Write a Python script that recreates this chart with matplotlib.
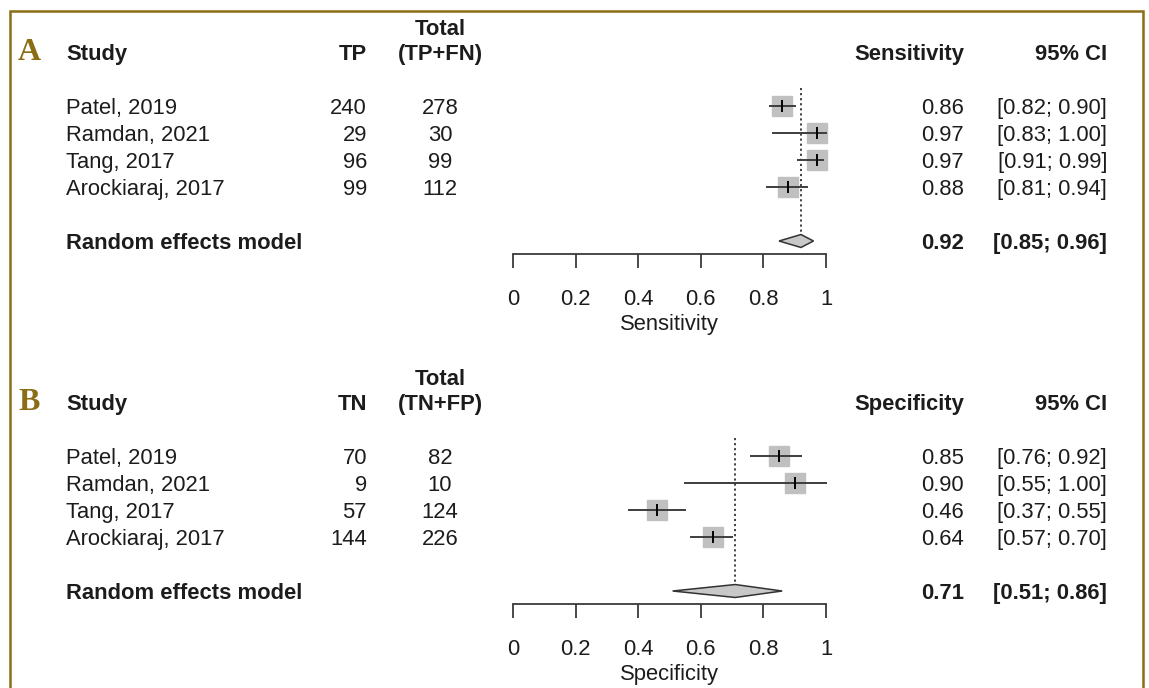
import matplotlib
matplotlib.use("Agg")
import matplotlib.pyplot as plt
import matplotlib.transforms as mtransforms
from matplotlib.patches import Rectangle

# ---- data ----
studies = ["Patel, 2019", "Ramdan, 2021", "Tang, 2017", "Arockiaraj, 2017"]

tp = [240, 29, 96, 99]
total_pos = [278, 30, 99, 112]
sens = [0.86, 0.97, 0.97, 0.88]
sens_lo = [0.82, 0.83, 0.91, 0.81]
sens_hi = [0.90, 1.00, 0.99, 0.94]
sens_pool = [0.92, 0.85, 0.96]  # est, lo, hi

tn = [70, 9, 57, 144]
total_neg = [82, 10, 124, 226]
spec = [0.85, 0.90, 0.46, 0.64]
spec_lo = [0.76, 0.55, 0.37, 0.57]
spec_hi = [0.92, 1.00, 0.55, 0.70]
spec_pool = [0.71, 0.51, 0.86]

ticks = [0, 0.2, 0.4, 0.6, 0.8, 1]
tick_labels = ["0", "0.2", "0.4", "0.6", "0.8", "1"]

W, H = 1149, 688
FS = 15.8
TXT = "#1c1c1c"
GOLD = "#8b6d16"
BL = 0.3  # baseline offset (row units) so text sits centred on the row

plt.rcParams["font.family"] = ["Liberation Sans", "DejaVu Sans"]

fig = plt.figure(figsize=(W / 100, H / 100), dpi=100)


def fx(px):
    return px / W


def forest(letter, y0, count_lbl, total_lbl, metric, counts, totals,
           est, lo, hi, pool):
    # y0 = pixel row of the header line; one row = 27 px
    row = 27.0
    top_u, bot_u = -1.6, 7.48
    ax_top = y0 + top_u * row
    ax_bot = y0 + bot_u * row
    ax = fig.add_axes([fx(513), 1 - ax_bot / H, fx(313), (ax_bot - ax_top) / H])
    ax.set_xlim(0, 1)
    ax.set_ylim(bot_u, top_u)
    ax.patch.set_alpha(0)
    for s in ["top", "left", "right"]:
        ax.spines[s].set_visible(False)
    ax.spines["bottom"].set_color("#3a3a3a")
    ax.spines["bottom"].set_linewidth(1.3)
    ax.set_yticks([])
    ax.set_xticks(ticks)
    ax.set_xticklabels(tick_labels, fontsize=FS, color=TXT)
    ax.tick_params(axis="x", direction="out", length=10, width=1.3,
                   color="#3a3a3a", pad=15)
    ax.set_xlabel(metric, fontsize=FS, color=TXT, labelpad=3)

    tr = mtransforms.blended_transform_factory(fig.transFigure, ax.transData)
    rows = [2, 3, 4, 5]
    re_row = 7

    # headers
    fig.text(fx(29), 1 - (y0 + 1) / H, letter, family="Liberation Serif",
             fontweight="bold", fontsize=23, color=GOLD, ha="center", va="center")
    hk = dict(transform=tr, fontsize=FS, fontweight="bold", color=TXT, va="baseline")
    ax.text(fx(66), BL, "Study", ha="left", **hk)
    ax.text(fx(367), BL, count_lbl, ha="right", **hk)
    ax.text(fx(440), -0.93 + BL, "Total", ha="center", **hk)
    ax.text(fx(440), BL, total_lbl, ha="center", **hk)
    ax.text(fx(964), BL, metric, ha="right", **hk)
    ax.text(fx(1107), BL, "95% CI", ha="right", **hk)

    nk = dict(transform=tr, fontsize=FS, color=TXT, va="baseline")
    for r, name, c, t, e, l, h in zip(rows, studies, counts, totals, est, lo, hi):
        ax.text(fx(66), r + BL, name, ha="left", **nk)
        ax.text(fx(367), r + BL, str(c), ha="right", **nk)
        ax.text(fx(440), r + BL, str(t), ha="center", **nk)
        ax.text(fx(964), r + BL, f"{e:.2f}", ha="right", **nk)
        ax.text(fx(1107), r + BL, f"[{l:.2f}; {h:.2f}]", ha="right", **nk)
        ax.plot(e, r, marker="s", markersize=14.5, color="#c0c0c0",
                markeredgecolor="#c0c0c0", zorder=2, clip_on=False)
        ax.plot([l, h], [r, r], color="#3d3d3d", lw=1.4, zorder=3, clip_on=False)
        ax.plot(e, r, marker="|", markersize=8, color="black",
                markeredgewidth=1.4, zorder=4, clip_on=False)

    pe, pl, ph = pool
    ax.text(fx(66), re_row + BL, "Random effects model", ha="left", **hk)
    ax.text(fx(964), re_row + BL, f"{pe:.2f}", ha="right", **hk)
    ax.text(fx(1107), re_row + BL, f"[{pl:.2f}; {ph:.2f}]", ha="right", **hk)

    dh = 0.24
    ax.fill([pl, pe, ph, pe], [re_row, re_row - dh, re_row, re_row + dh],
            facecolor="#c8c8c8", edgecolor="#333333", lw=1.1, zorder=3,
            clip_on=False)
    ax.plot([pe, pe], [1.35, re_row - dh], color="#333333", lw=1.3,
            linestyle=(0, (1.2, 1.6)), zorder=1, clip_on=False)
    return ax


forest("A", 52, "TP", "(TP+FN)", "Sensitivity", tp, total_pos,
       sens, sens_lo, sens_hi, sens_pool)
forest("B", 402, "TN", "(TN+FP)", "Specificity", tn, total_neg,
       spec, spec_lo, spec_hi, spec_pool)

# golden frame (bottom edge falls outside the picture)
frame = Rectangle((fx(10), -0.05), fx(1133), 1 - 11 / H + 0.05,
                  transform=fig.transFigure, fill=False, edgecolor=GOLD,
                  lw=1.8, zorder=10)
fig.patches.append(frame)

fig.savefig("out.png", dpi=100)
